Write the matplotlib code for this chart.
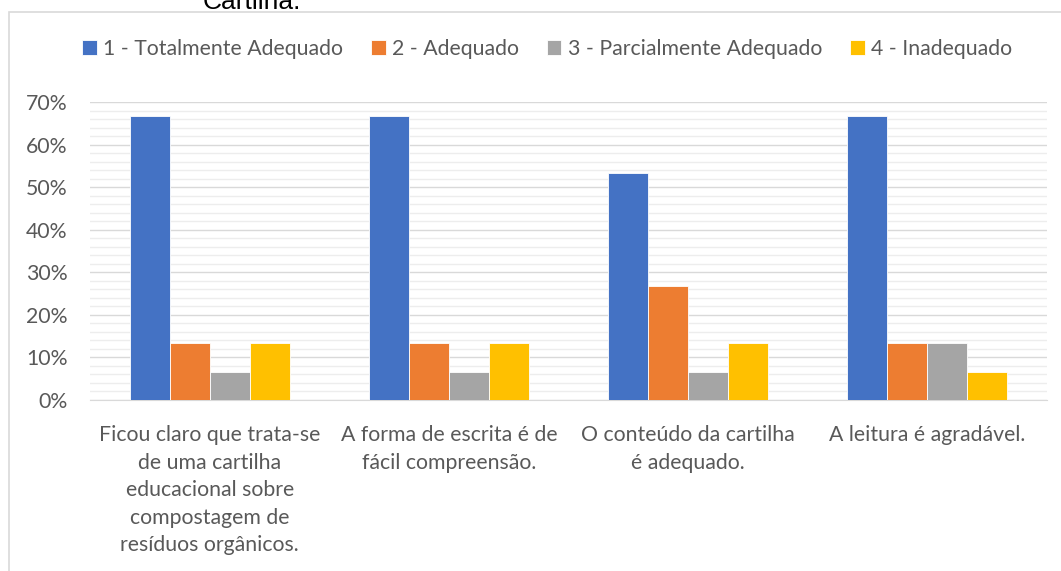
import matplotlib.pyplot as plt
from matplotlib.patches import Rectangle
from matplotlib.ticker import MultipleLocator, FuncFormatter
import numpy as np

categories = [
    "Ficou claro que trata-se\nde uma cartilha\neducacional sobre\ncompostagem de\nresíduos orgânicos.",
    "A forma de escrita é de\nfácil compreensão.",
    "O conteúdo da cartilha\né adequado.",
    "A leitura é agradável.",
]
series_names = ["1 - Totalmente Adequado", "2 - Adequado",
                "3 - Parcialmente Adequado", "4 - Inadequado"]
totalmente = [66.67, 66.67, 53.33, 66.67]
adequado = [13.33, 13.33, 26.67, 13.33]
parcial = [6.67, 6.67, 6.67, 13.33]
inadequado = [13.33, 13.33, 13.33, 6.67]
colors = ["#4472C4", "#ED7D31", "#A5A5A5", "#FFC000"]

font = "Lato"
gray = "#595959"
fs = 15.3

fig = plt.figure(figsize=(10.61, 5.71), dpi=100)
W, H = 1061, 571
ax = fig.add_axes([90 / W, 1 - 400 / H, 957 / W, 298 / H])

x = np.arange(len(categories))
bw = 0.167
all_series = [totalmente, adequado, parcial, inadequado]
for i, (vals, name, c) in enumerate(zip(all_series, series_names, colors)):
    ax.bar(x + (i - 1.5) * bw, vals, bw, color=c, label=name, zorder=3,
           edgecolor="white", linewidth=0.6)

ax.set_xlim(-0.5, 3.5)
ax.set_ylim(0, 70)
ax.yaxis.set_major_locator(MultipleLocator(10))
ax.yaxis.set_minor_locator(MultipleLocator(2))
ax.yaxis.set_major_formatter(FuncFormatter(lambda v, p: f"{v:.0f}%"))
ax.grid(axis="y", which="major", color="#D9D9D9", linewidth=1, zorder=0)
ax.grid(axis="y", which="minor", color="#EDEDED", linewidth=1, zorder=0)
for s in ["top", "right", "left"]:
    ax.spines[s].set_visible(False)
ax.spines["bottom"].set_color("#D9D9D9")
ax.tick_params(axis="both", which="both", length=0, labelsize=fs, colors=gray)
ax.tick_params(axis="y", pad=16)
ax.tick_params(axis="x", pad=18)
ax.set_xticks(x)
ax.set_xticklabels(categories, fontfamily=font, linespacing=1.47)
for lab in ax.get_yticklabels():
    lab.set_fontfamily(font)

leg = fig.legend(loc="center", bbox_to_anchor=(547 / W, 1 - 49 / H), ncol=4,
                 frameon=False, prop={"family": font, "size": fs},
                 handlelength=0.7, handleheight=0.7, handletextpad=0.3,
                 columnspacing=1.3, labelcolor=gray)

# chart border
fig.patches.append(Rectangle((9 / W, -0.01), 1.05, 1 - 12 / H + 0.01,
                             transform=fig.transFigure, fill=False,
                             edgecolor="#D9D9D9", linewidth=1.2))
fig.text(252 / W, 1 - 9 / H, "Cartilha.", fontfamily="Liberation Sans",
         fontsize=19, color="black", ha="center", va="baseline")

fig.savefig("out.png", dpi=100)
